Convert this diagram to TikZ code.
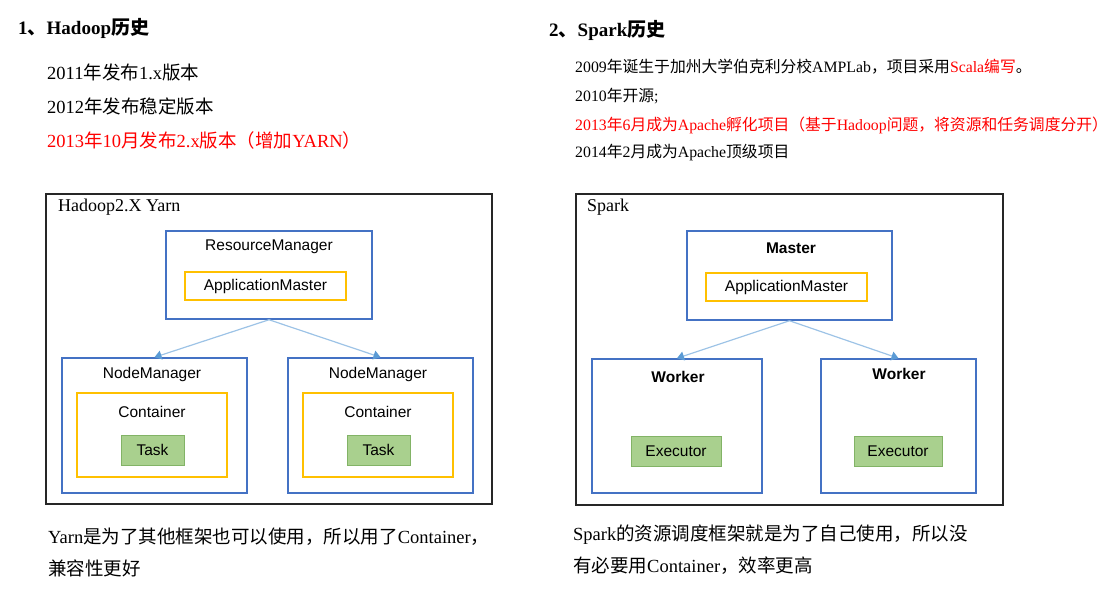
\documentclass[tikz,border=0pt]{standalone}
\usepackage{fontspec}
\setmainfont{Liberation Serif}
\setsansfont{Liberation Sans}
\newfontfamily\cjk{Noto Sans CJK SC}
\usepackage{xcolor}
\usetikzlibrary{
    arrows.meta,
    positioning
}
\definecolor{boxblue}{HTML}{4472C4}
\definecolor{boxyellow}{HTML}{FFC000}
\definecolor{taskgreen}{HTML}{A9D08E}
\definecolor{taskline}{HTML}{82B366}
\definecolor{linkblue}{HTML}{9DC3E6}
\definecolor{tipblue}{HTML}{5B9BD5}
\definecolor{dark}{HTML}{262626}
\definecolor{hot}{HTML}{FF0000}
\newcommand{\zh}[1]{{\cjk #1}}
\tikzset{
    % Outer frame style
    frame/.style={
        rectangle,
        draw=dark,
        line width=2pt,
        inner sep=0pt
    },
    % Blue box style
    manager/.style={
        rectangle,
        draw=boxblue,
        line width=1.5pt,
        inner sep=0pt
    },
    % Yellow box style
    inner box/.style={
        rectangle,
        draw=boxyellow,
        line width=1.5pt,
        inner sep=0pt
    },
    % Green task style
    task/.style={
        rectangle,
        draw=taskline,
        fill=taskgreen,
        line width=1pt,
        inner sep=0pt,
        font=\fontsize{15.5}{18}\sffamily
    },
    % Box label style
    box text/.style={
        inner sep=0pt,
        font=\fontsize{15.5}{18}\sffamily
    },
    % Arrow style
    link/.style={
        -{Triangle[length=7pt, width=9pt, color=tipblue]},
        line width=1.2pt,
        draw=linkblue
    },
    % Text styles
    section title/.style={
        anchor=west,
        inner sep=0pt,
        font=\fontsize{19}{23}\selectfont\bfseries
    },
    history/.style={
        anchor=west,
        inner sep=0pt,
        font=\fontsize{18.5}{22}\selectfont
    },
    history small/.style={
        anchor=west,
        inner sep=0pt,
        font=\fontsize{15.8}{19}\selectfont
    }
}
\begin{document}
\begin{tikzpicture}[x=1pt, y=-1pt]
        \useasboundingbox (0,0) rectangle (1118,594);

        % Hadoop history
        \node[section title] (t1) at (18,28) {1\zh{、}Hadoop\zh{历史}};
        \node[history] (h1) at (47,72) {2011\zh{年发布}1.x\zh{版本}};
        \node[history] (h2) at (47,106) {2012\zh{年发布稳定版本}};
        \node[history, text=hot] (h3) at (47,140) {2013\zh{年}10\zh{月发布}2.x\zh{版本（增加}YARN\zh{）}};

        % Spark history
        \node[section title] (t2) at (549,30) {2\zh{、}Spark\zh{历史}};
        \node[history small] (s1) at (575,67) {2009\zh{年诞生于加州大学伯克利分校}AMPLab\zh{，项目采用}\textcolor{hot}{Scala\zh{编写}}\zh{。}};
        \node[history small] (s2) at (575,96) {2010\zh{年开源};};
        \node[history small, text=hot] (s3) at (575,125) {2013\zh{年}6\zh{月成为}Apache\zh{孵化项目（基于}Hadoop\zh{问题，将资源和任务调度分开）}};
        \node[history small] (s4) at (575,153) {2014\zh{年}2\zh{月成为}Apache\zh{顶级项目}};

        % Yarn frame
        \node[frame, minimum width=446, minimum height=310] (yarn) at (269,349) {};
        \node[anchor=west, inner sep=0pt, font=\fontsize{18}{22}\selectfont] (yarnlbl) at (58,207) {Hadoop2.X Yarn};

        \node[manager, minimum width=206, minimum height=88] (rm) at (269,275) {};
        \node[box text] (rmlbl) at (269,247) {ResourceManager};
        \node[inner box, box text, minimum width=161, minimum height=28] (am1) at (265.5,286) {ApplicationMaster};

        \node[manager, minimum width=185, minimum height=135] (nm1) at (154.5,425.5) {};
        \node[manager, minimum width=185, minimum height=135] (nm2) at (380.5,425.5) {};
        \node[box text] (nm1lbl) at (152,374) {NodeManager};
        \node[box text] (nm2lbl) at (378,374) {NodeManager};

        \node[inner box, minimum width=150, minimum height=84] (ct1) at (152,435) {};
        \node[inner box, minimum width=150, minimum height=84] (ct2) at (378,435) {};
        \node[box text] (ct1lbl) at (152,412) {Container};
        \node[box text] (ct2lbl) at (378,412) {Container};

        \node[task, minimum width=63, minimum height=30] (tk1) at (152.5,450) {Task};
        \node[task, minimum width=63, minimum height=30] (tk2) at (378.5,450) {Task};

        \draw[link] (rm.south) -- (nm1.north);
        \draw[link] (rm.south) -- (nm2.north);

        % Spark frame
        \node[frame, minimum width=427, minimum height=311] (spark) at (789.5,349.5) {};
        \node[anchor=west, inner sep=0pt, font=\fontsize{18}{22}\selectfont] (sparklbl) at (587,207) {Spark};

        \node[manager, minimum width=205, minimum height=89] (master) at (789.5,275.5) {};
        \node[box text, font=\fontsize{15.5}{18}\sffamily\bfseries] (masterlbl) at (791,248) {Master};
        \node[inner box, box text, minimum width=161, minimum height=28] (am2) at (786.5,287) {ApplicationMaster};

        \node[manager, minimum width=170, minimum height=134] (wk1) at (677,426) {};
        \node[manager, minimum width=155, minimum height=134] (wk2) at (898.5,426) {};
        \node[box text, font=\fontsize{15.5}{18}\sffamily\bfseries] (wk1lbl) at (678,377) {Worker};
        \node[box text, font=\fontsize{15.5}{18}\sffamily\bfseries] (wk2lbl) at (899,374) {Worker};

        \node[task, minimum width=90, minimum height=30] (ex1) at (676,451) {Executor};
        \node[task, minimum width=88, minimum height=30] (ex2) at (898,451) {Executor};

        \draw[link] (master.south) -- (wk1.north);
        \draw[link] (master.south) -- (wk2.north);

        % Notes
        \node[history] (n1) at (48,537) {Yarn\zh{是为了其他框架也可以使用，所以用了}Container\zh{，}};
        \node[history] (n2) at (48,568) {\zh{兼容性更好}};
        \node[history] (n3) at (573,535) {Spark\zh{的资源调度框架就是为了自己使用，所以没}};
        \node[history] (n4) at (573,566) {\zh{有必要用}Container\zh{，效率更高}};

    \end{tikzpicture}
\end{document}
